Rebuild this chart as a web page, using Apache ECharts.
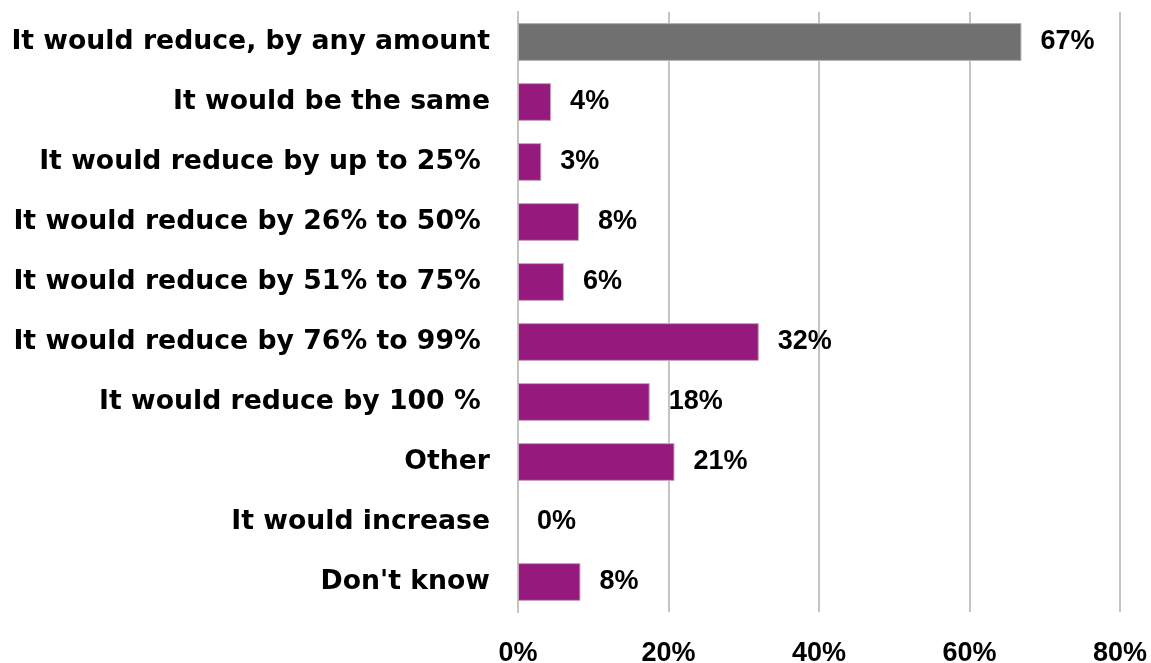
<!DOCTYPE html>
<html>
<head>
<meta charset="utf-8">
<script src="https://cdn.jsdelivr.net/npm/echarts@6/dist/echarts.min.js"></script>
<style>html,body{margin:0;padding:0;background:#fff;}#c{width:1151px;height:663px;}</style>
</head>
<body>
<div id="c"></div>
<script>
const categories = [
  "It would reduce, by any amount",
  "It would be the same",
  "It would reduce by up to 25% ",
  "It would reduce by 26% to 50% ",
  "It would reduce by 51% to 75% ",
  "It would reduce by 76% to 99% ",
  "It would reduce by 100 % ",
  "Other",
  "It would increase",
  "Don't know"
];
const values = [66.9, 4.4, 3.1, 8.1, 6.1, 32, 17.5, 20.8, 0, 8.3];
const highlightIndex = 0;
const xTicks = [0, 20, 40, 60, 80];

const numFont = 'Liberation Sans, Arial, sans-serif';
const chart = echarts.init(document.getElementById('c'));
chart.setOption({
  animation: false,
  grid: { left: 518, right: 31, top: 12, bottom: 51, containLabel: false, outerBoundsMode: 'none' },
  xAxis: {
    type: 'value', min: 0, max: 80, interval: 20,
    axisLine: { show: false }, axisTick: { show: false },
    splitLine: { show: true, lineStyle: { color: '#c4c4c4', width: 2 } },
    axisLabel: {
      margin: 28, color: '#000', fontFamily: numFont,
      fontWeight: 'bold', fontSize: 27,
      formatter: v => xTicks.includes(v) ? v + '%' : ''
    }
  },
  yAxis: {
    type: 'category', inverse: true, data: categories,
    axisLine: { show: true, lineStyle: { color: '#c4c4c4', width: 2 } },
    axisTick: { show: false },
    axisLabel: {
      margin: 28, color: '#000', fontFamily: 'DejaVu Sans, sans-serif',
      fontWeight: 'bold', fontSize: 26.7
    }
  },
  series: [{
    type: 'bar',
    barCategoryGap: '37%',
    data: values.map((v, i) => ({
      value: v,
      itemStyle: {
        color: i === highlightIndex ? '#707070' : '#961a7e',
        borderColor: i === highlightIndex ? '#b0b0b0' : '#c9a6c0',
        borderWidth: v > 0 ? 1 : 0
      }
    })),
    label: {
      show: true, position: 'right', distance: 19,
      color: '#000', fontFamily: numFont,
      fontWeight: 'bold', fontSize: 27,
      formatter: p => Math.round(p.value) + '%'
    }
  }]
});
</script>
</body>
</html>
